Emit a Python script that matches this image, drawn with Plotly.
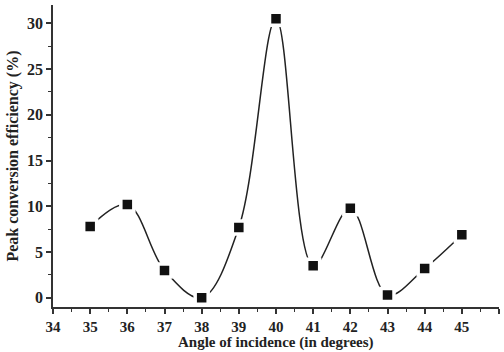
import plotly.graph_objects as go

angles = [35, 36, 37, 38, 39, 40, 41, 42, 43, 44, 45]
efficiency = [7.8, 10.2, 3.0, 0.0, 7.7, 30.5, 3.5, 9.8, 0.3, 3.2, 6.9]

x_ticks = list(range(34, 47))
y_ticks = [0, 5, 10, 15, 20, 25, 30]

x_title = "Angle of incidence (in degrees)"
y_title = "Peak conversion efficiency (%)"

fig = go.Figure()
fig.add_trace(go.Scatter(
    x=angles, y=efficiency,
    mode="lines",
    line=dict(shape="spline", smoothing=1.0, color="#222", width=1.5),
    showlegend=False, hoverinfo="skip",
))
fig.add_trace(go.Scatter(
    x=angles, y=efficiency,
    mode="markers",
    marker=dict(symbol="square", size=13, color="#111",
                line=dict(color="white", width=3.5)),
    showlegend=False,
))

font_family = "Liberation Serif"
fig.update_layout(
    width=504, height=352,
    margin=dict(l=53, r=5, t=5, b=45),
    paper_bgcolor="white", plot_bgcolor="white",
    font=dict(family=font_family, color="#222"),
    xaxis=dict(
        range=[34, 46], tickvals=x_ticks, ticktext=[f"<b>{v}</b>" for v in x_ticks],
        showgrid=False, zeroline=False, automargin=False,
        showline=True, linecolor="#333", linewidth=1.5,
        ticks="outside", ticklen=5, tickwidth=1.5, tickcolor="#333",
        minor=dict(ticks="outside", ticklen=3, tickwidth=1, tickcolor="#333", dtick=0.5),
        tickfont=dict(family=font_family, size=15, color="#222"),
    ),
    yaxis=dict(
        range=[-1, 32], tickvals=y_ticks, ticktext=[f"<b>{v}</b>" for v in y_ticks],
        showgrid=False, zeroline=False, automargin=False,
        showline=True, linecolor="#333", linewidth=1.5,
        ticks="outside", ticklen=5, tickwidth=1.5, tickcolor="#333",
        minor=dict(ticks="outside", ticklen=3, tickwidth=1, tickcolor="#333", dtick=2.5),
        tickfont=dict(family=font_family, size=16, color="#222"),
        title=dict(text=f"<b>{y_title}</b>",
                   font=dict(family=font_family, size=16, color="#222"), standoff=4),
    ),
)
fig.add_annotation(
    text=f"<b>{x_title}</b>", xref="paper", yref="paper", x=0.5, y=0,
    xanchor="center", yanchor="top", yshift=-26, showarrow=False, borderpad=0,
    font=dict(family=font_family, size=15, color="#222"),
)

fig.write_html("out.html")
